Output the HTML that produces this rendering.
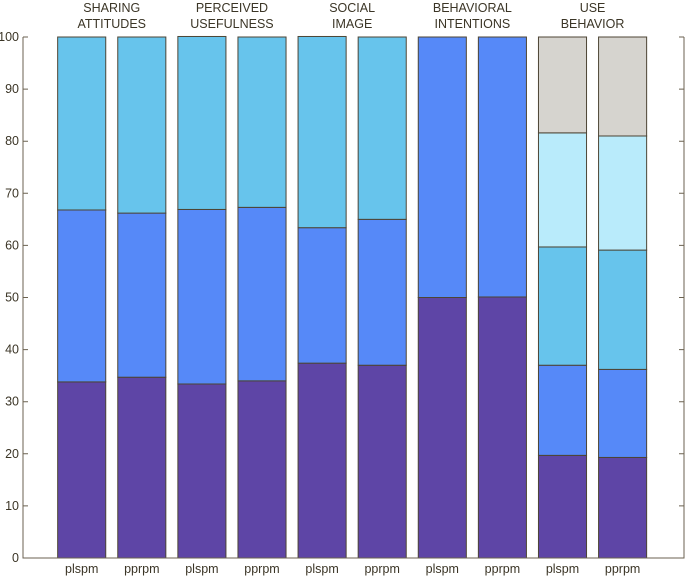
<!DOCTYPE html>
<html><head><meta charset="utf-8"><style>
body{margin:0;background:#fff;}
svg{display:block;font-family:"Liberation Sans",sans-serif;}
</style></head><body>
<svg id="c" width="685" height="576"></svg>
<script>
const categories=["plspm","pprpm","plspm","pprpm","plspm","pprpm","plspm","pprpm","plspm","pprpm"];
const groupTitles=[["SHARING","ATTITUDES"],["PERCEIVED","USEFULNESS"],["SOCIAL","IMAGE"],["BEHAVIORAL","INTENTIONS"],["USE","BEHAVIOR"]];
const seg1=[33.8,34.7,33.4,34.0,37.4,37.0,50.0,50.1,19.7,19.3];
const seg2=[33.0,31.5,33.5,33.3,26.0,28.0,50.0,49.9,17.3,16.9];
const seg3=[33.2,33.8,33.2,32.7,36.7,35.0,0,0,22.7,22.9];
const seg4=[0,0,0,0,0,0,0,0,21.9,21.9];
const seg5=[0,0,0,0,0,0,0,0,18.4,19.0];
const yTicks=[0,10,20,30,40,50,60,70,80,90,100];
const colors=["#5e45a6","#5689f8","#67c4ec","#b9ebfb","#d6d4cf"];
const X0=23,X1=684,Y0=558,Y1=37,xmin=0,xmax=11;
const xs=v=>21.6+(v-xmin)*60.1;
const ys=v=>Y0-(v/100)*(Y0-Y1);
const svg=document.getElementById('c');
const NS="http://www.w3.org/2000/svg";
function mk(t,a){const e=document.createElementNS(NS,t);for(const k in a)e.setAttribute(k,a[k]);svg.appendChild(e);return e;}
const series=[seg1,seg2,seg3,seg4,seg5];
const bw=0.8;
categories.forEach((c,i)=>{
  let base=0;
  series.forEach((s,si)=>{
    const v=s[i];if(v<=0)return;
    const r=mk('rect',{x:xs(i+1-bw/2),y:ys(base+v),width:xs(i+1+bw/2)-xs(i+1-bw/2),height:ys(base)-ys(base+v),fill:colors[si],stroke:"#4d4535","stroke-width":1});
    
    
    base+=v;
  });
  const t=mk('text',{x:xs(i+1),y:573,"text-anchor":"middle","font-size":12.5,fill:"#3b3526"});
  t.textContent=c;
  
  
});
const ax=mk('path',{d:`M${X0},${Y1}V${Y0}H${X1}V${Y1}`,fill:"none",stroke:"#6b6250","stroke-width":1});


yTicks.forEach(v=>{
  const l=mk('path',{d:`M${X0},${ys(v)}h5M${X1},${ys(v)}h-5`,stroke:"#6b6250"});
  
  
  const t=mk('text',{x:X0-4,y:ys(v)+4,"text-anchor":"end","font-size":12.5,fill:"#3b3526"});
  t.textContent=v;
  
  
});
groupTitles.forEach((g,gi)=>{
  g.forEach((line,li)=>{
    const t=mk('text',{x:xs(gi*2+1.5),y:12+li*16,"text-anchor":"middle","font-size":12.5,fill:"#3b3526"});
    t.textContent=line;
    
    
  });
});
</script>
</body></html>
